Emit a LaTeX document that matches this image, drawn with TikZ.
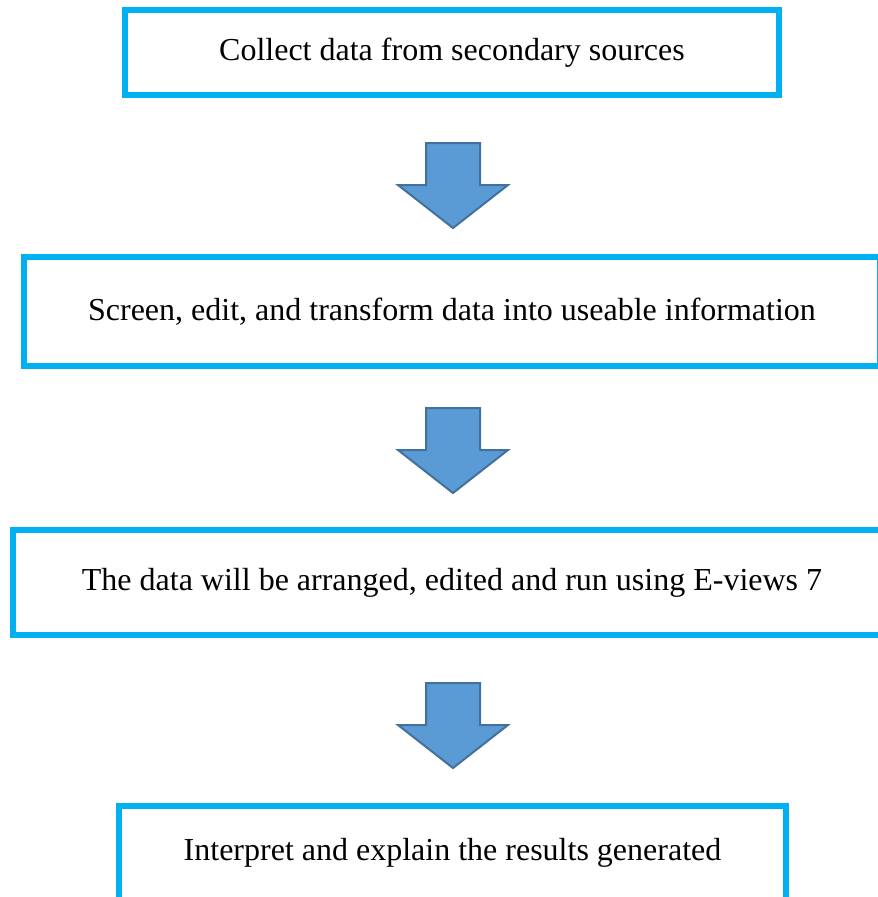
\documentclass[tikz,border=0pt]{standalone}
\usepackage{fontspec}
\setmainfont{Liberation Serif}
\definecolor{boxcyan}{RGB}{0,176,240}
\definecolor{arrowfill}{RGB}{91,155,213}
\definecolor{arrowedge}{RGB}{65,113,156}
\begin{document}
\begin{tikzpicture}[x=1pt, y=-1pt,
  every node/.style={font=\fontsize{32}{36}\selectfont},
  stepbox/.style={draw=boxcyan, line width=6pt, inner sep=0pt, outer sep=0pt},
  blockarrow/.style={fill=arrowfill, draw=arrowedge, line width=2pt, line join=miter}]
  \useasboundingbox (0,0) rectangle (878,897);
  % the four steps
  \node[stepbox, minimum width=654pt, minimum height=85pt] (collect) at (452,52.5) {Collect data from secondary sources};
  \node[stepbox, minimum width=856pt, minimum height=109pt] (screen) at (452,311.5) {Screen, edit, and transform data into useable information};
  \node[stepbox, minimum width=878pt, minimum height=105pt] (eviews) at (452,582.5) {The data will be arranged, edited and run using E-views 7};
  \node[stepbox, minimum width=667pt, minimum height=94pt] (interpret) at (452.5,853) {Interpret and explain the results generated};
  % block arrows between the steps
  \coordinate (arr1) at (453,143);
  \coordinate (arr2) at (453,408);
  \coordinate (arr3) at (453,683);
  \foreach \a in {arr1,arr2,arr3} {
    \draw[blockarrow] (\a) ++(-27,0) -- ++(54,0) -- ++(0,42) -- ++(28,0) -- ++(-55,43) -- ++(-55,-43) -- ++(28,0) -- cycle;
  }
\end{tikzpicture}
\end{document}
